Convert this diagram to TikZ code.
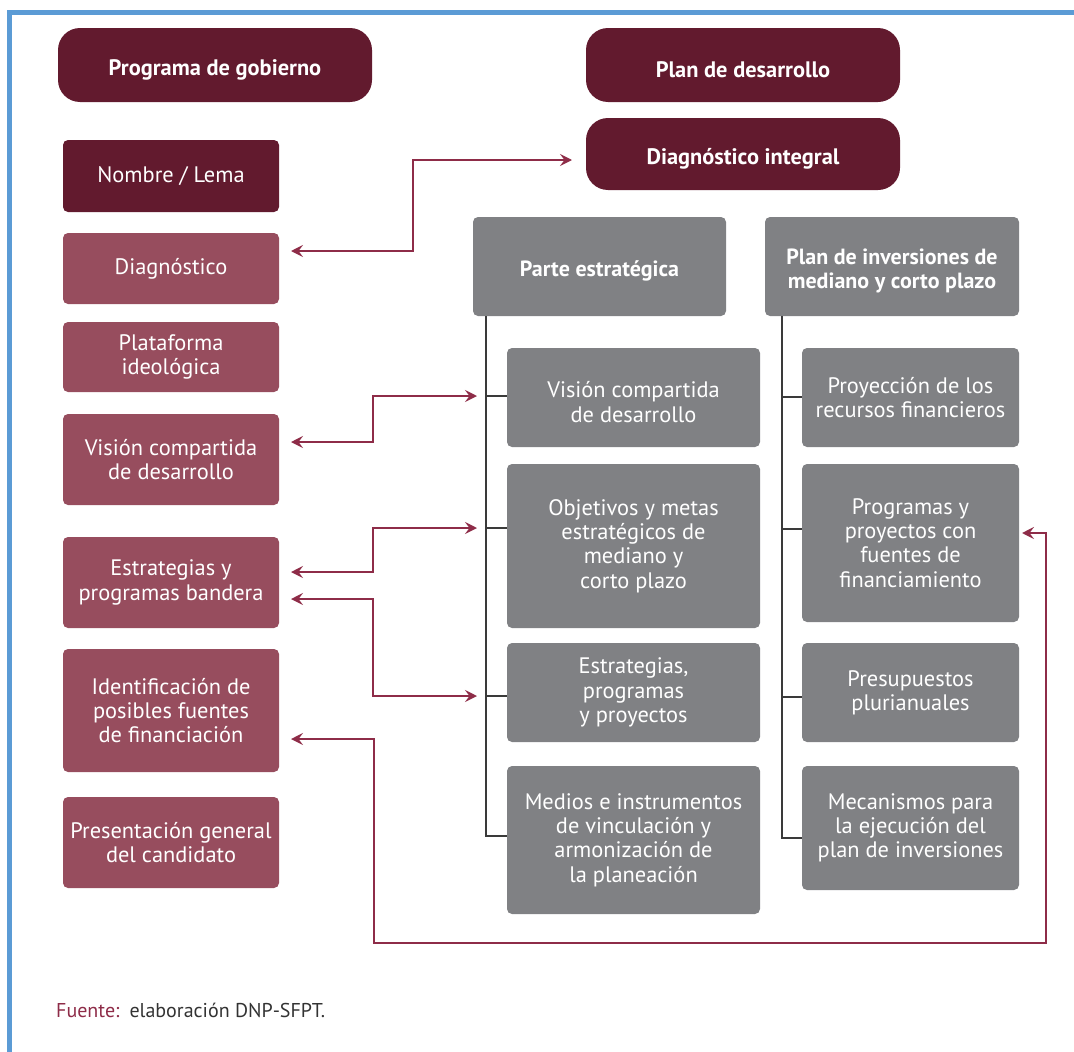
\documentclass[tikz,border=0pt]{standalone}
\usepackage{fontspec}
\setmainfont{PT Sans}
\usetikzlibrary{arrows.meta}
\definecolor{mdark}{HTML}{621A2E}
\definecolor{mlight}{HTML}{974D5E}
\definecolor{gbox}{HTML}{808184}
\definecolor{marr}{HTML}{8E2C48}
\definecolor{bframe}{HTML}{5B9BD5}
\definecolor{tline}{HTML}{3A3A3A}
\definecolor{ftxt}{HTML}{333333}
\newcommand{\liftline}{\rule{0pt}{25pt}}
\tikzset{
  base/.style={anchor=north west, inner sep=0pt, outer sep=0pt, align=center, text=white, font=\fontsize{22.4}{24.3}\selectfont},
  pill/.style={base, fill=mdark, rounded corners=22pt, font=\fontsize{22.4}{24.3}\selectfont\bfseries},
  darkbox/.style={base, fill=mdark, rounded corners=5pt},
  lightbox/.style={base, fill=mlight, rounded corners=5pt},
  graybox/.style={base, fill=gbox, rounded corners=5pt},
  grayhead/.style={graybox, font=\fontsize{22}{24.3}\selectfont\bfseries},
  tree/.style={draw=tline, line width=1.5pt},
  arr/.style={draw=marr, line width=2pt, {Stealth[length=12pt,width=12pt,inset=4.5pt]}-{Stealth[length=12pt,width=12pt,inset=4.5pt]}},
}
\begin{document}
\begin{tikzpicture}[x=1pt,y=-1pt]
\useasboundingbox (0,0) rectangle (1074,1052);
% frame
\draw[bframe, line width=5pt] (9.5,1052) -- (9.5,12.5) -- (1074,12.5);

% top pills
\node[pill, minimum width=314pt, minimum height=74pt] (pg) at (58,28) {\liftline Programa de gobierno};
\node[pill, minimum width=314pt, minimum height=74pt] (pd) at (586,28) {\liftline Plan de desarrollo};
\node[pill, minimum width=314pt, minimum height=72pt] (dint) at (586,118) {\liftline Diagnóstico integral};

% left column
\node[darkbox, minimum width=216pt, minimum height=72pt] (nom) at (63,140) {Nombre / Lema};
\node[lightbox, minimum width=216pt, minimum height=71pt] (diag) at (63,233) {Diagnóstico};
\node[lightbox, minimum width=216pt, minimum height=70pt] (plat) at (63,322) {Plataforma\\ideológica};
\node[lightbox, minimum width=216pt, minimum height=91pt] (vcl) at (63,414) {Visión compartida\\de desarrollo};
\node[lightbox, minimum width=216pt, minimum height=91pt] (epb) at (63,537) {Estrategias y\\programas bandera};
\node[lightbox, minimum width=216pt, minimum height=123pt] (idf) at (63,649) {Identificación de\\posibles fuentes\\de financiación};
\node[lightbox, minimum width=216pt, minimum height=91pt] (pres) at (63,797) {Presentación general\\del candidato};

% gray heads
\node[grayhead, minimum width=253pt, minimum height=99pt] (pe) at (473,217) {\liftline Parte estratégica};
\node[grayhead, minimum width=254pt, minimum height=99pt] (pi) at (765,217) {\liftline Plan de inversiones de\\mediano y corto plazo};

% strategic children
\node[graybox, minimum width=253pt, minimum height=99pt] (vis) at (507,348) {\liftline Visión compartida\\de desarrollo};
\node[graybox, minimum width=253pt, minimum height=164pt] (obj) at (507,464) {Objetivos y metas\\estratégicos de\\mediano y\\corto plazo};
\node[graybox, minimum width=253pt, minimum height=99pt] (epp) at (507,643) {Estrategias,\\programas\\y proyectos};
\node[graybox, minimum width=253pt, minimum height=148pt] (med) at (507,766) {Medios e instrumentos\\de vinculación y\\armonización de\\la planeación};

% investment children
\node[graybox, minimum width=217pt, minimum height=99pt] (proy) at (802,348) {Proyección de los\\recursos financieros};
\node[graybox, minimum width=217pt, minimum height=158pt] (prg) at (802,464) {Programas y\\proyectos con\\fuentes de\\financiamiento};
\node[graybox, minimum width=217pt, minimum height=99pt] (ppl) at (802,643) {Presupuestos\\plurianuales};
\node[graybox, minimum width=217pt, minimum height=124pt] (mec) at (802,766) {Mecanismos para\\la ejecución del\\plan de inversiones};

% trees
\coordinate (tA) at ([xshift=13pt]pe.south west);
\coordinate (tB) at ([xshift=17pt]pi.south west);
\draw[tree] (tA) |- (med.west |- 0,836);
\draw[tree] (tA |- 0,396) -- (vis.west |- 0,396);
\draw[tree] (tA |- 0,528) -- (obj.west |- 0,528);
\draw[tree] (tA |- 0,696) -- (epp.west |- 0,696);
\draw[tree] (tB) |- (mec.west |- 0,838);
\draw[tree] (tB |- 0,397) -- (proy.west |- 0,397);
\draw[tree] (tB |- 0,529) -- (prg.west |- 0,529);
\draw[tree] (tB |- 0,697) -- (ppl.west |- 0,697);

% arrows
\draw[arr, shorten <=12pt, shorten >=14pt] (diag.east |- 0,251) -| (413,160) -- (dint.west |- 0,160);
\draw[arr, shorten <=12pt, shorten >=9pt] (vcl.east |- 0,442) -| (373,396) -- (tA |- 0,396);
\draw[arr, shorten <=12pt, shorten >=9pt] (epb.east |- 0,572) -| (373,528) -- (tA |- 0,528);
\draw[arr, shorten <=12pt, shorten >=9pt] (epb.east |- 0,599) -| (373,696) -- (tA |- 0,696);
\draw[arr, shorten <=12pt, shorten >=3pt] (idf.east |- 0,739) -| (374,943) -| (1046,533) -- (prg.east |- 0,533);

% footer
\node[anchor=base west, inner sep=0pt, font=\fontsize{20}{23}\selectfont] (src) at (56,1017) {\textcolor{marr}{Fuente:}\enspace\textcolor{ftxt}{elaboración DNP-SFPT.}};
\end{tikzpicture}
\end{document}
